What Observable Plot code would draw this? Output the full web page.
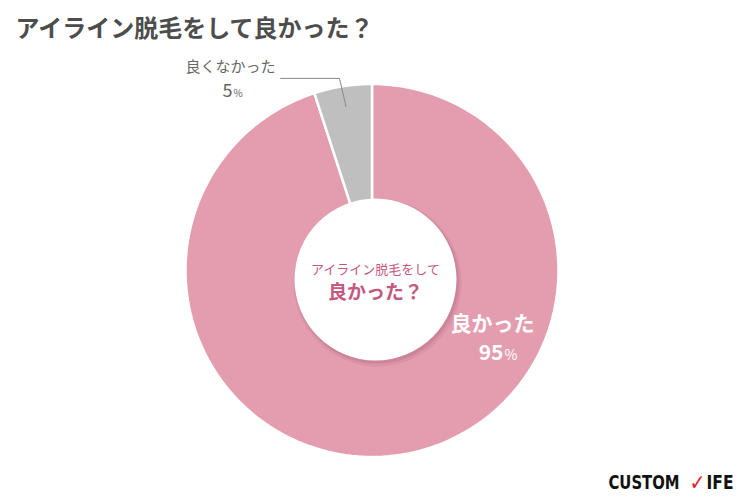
<!DOCTYPE html>
<html><head><meta charset="utf-8">
<script src="https://cdn.jsdelivr.net/npm/d3@7"></script>
<script src="https://cdn.jsdelivr.net/npm/@observablehq/plot@0.6"></script>
<style>body{margin:0;background:#fff}svg{display:block}</style>
</head><body><div id="chart"></div>
<script>
const categories = ["良かった", "良くなかった"];
const values = [95, 5];
const colors = ["#e39daf", "#bfbfbf"];
const title = "アイライン脱毛をして良かった？";
const centerLines = ["アイライン脱毛をして", "良かった？"];
const brandParts = ["CUSTOM", "✓", "IFE"];

const JP = "'Noto Sans CJK JP', 'Noto Sans', sans-serif";
const BRAND = "'DejaVu Sans Condensed', 'Liberation Sans Narrow', 'DejaVu Sans', sans-serif";
const W = 750, H = 501;
const R = 186.5;               // outer radius in px (1 data unit)
const cx = 371.5, cy = 270;    // center in px
const holeR = 81;              // px
const holeOffset = [3.5 / R, -9 / R];

const pieData = d3.pie().sort(null).value(d => d.value)(categories.map((c, i) => ({cat: c, value: values[i]})));
const rows = [];
for (const s of pieData) {
  const n = 180;
  rows.push({cat: s.data.cat, x: 0, y: 0});
  for (let k = 0; k <= n; k++) {
    const a = s.startAngle + (s.endAngle - s.startAngle) * k / n;
    rows.push({cat: s.data.cat, x: Math.sin(a), y: Math.cos(a)});
  }
  rows.push({cat: s.data.cat, x: 0, y: 0});
}

const small = pieData[1];
const mid = (small.startAngle + small.endAngle) / 2;
const endP = {x: Math.sin(mid) * 0.89, y: Math.cos(mid) * 0.89};
const leader = [
  {x: -0.49, y: 1.03},
  {x: endP.x - 0.035, y: 1.03},
  endP
];

const hole = [{x: holeOffset[0], y: holeOffset[1]}];

const T = (text, o) => Plot.text([text], {text: d => d, frameAnchor: "top-left", lineAnchor: "bottom", fontFamily: JP, ...o});

const plot = Plot.plot({
  width: W, height: H,
  margin: 0,
  x: {domain: [-cx / R, (W - cx) / R], axis: null},
  y: {domain: [-(H - cy) / R, cy / R], axis: null},
  style: {fontFamily: JP, background: "#fff"},
  marks: [
    ...categories.map((c, i) => Plot.line(rows.filter(r => r.cat === c), {x: "x", y: "y", fill: colors[i], stroke: "white", strokeWidth: 2.5, strokeLinejoin: "round"})),
    Plot.dot(hole, {x: "x", y: "y", r: holeR + 3, dx: 2, dy: 3, fill: "#b06a80", fillOpacity: 0.18, stroke: null}),
    Plot.dot(hole, {x: "x", y: "y", r: holeR + 1, dx: 1.5, dy: 2, fill: "#b06a80", fillOpacity: 0.35, stroke: null}),
    Plot.dot(hole, {x: "x", y: "y", r: holeR, fill: "white", stroke: null}),
    Plot.line(leader, {x: "x", y: "y", stroke: "#888", strokeWidth: 1}),
    T(title, {dx: 15, dy: 36, fontSize: 24, fontWeight: "bold", fill: "#4d4d4d", textAnchor: "start"}),
    T(categories[1], {dx: 185, dy: 71, fontSize: 15, fill: "#666", textAnchor: "start"}),
    T(String(values[1]), {dx: 232, dy: 96, fontSize: 18, fill: "#666", textAnchor: "end"}),
    T("%", {dx: 233, dy: 96, fontSize: 10, fill: "#666", textAnchor: "start"}),
    T(centerLines[0], {dx: 375, dy: 273, fontSize: 13, fill: "#c4587f", textAnchor: "middle"}),
    T(centerLines[1], {dx: 375, dy: 298, fontSize: 19, fontWeight: "bold", fill: "#c4587f", textAnchor: "middle"}),
    T(categories[0], {dx: 492, dy: 330, fontSize: 21, fontWeight: "bold", fill: "white", textAnchor: "middle"}),
    T(String(values[0]), {dx: 503, dy: 359, fontSize: 21, fontWeight: "bold", fill: "white", textAnchor: "end"}),
    T("%", {dx: 504, dy: 359, fontSize: 14, fill: "white", textAnchor: "start"}),
    T(brandParts[0], {dx: 608, dy: 488, fontSize: 19, fontWeight: "bold", fill: "#111", textAnchor: "start", fontFamily: BRAND}),
    T(brandParts[1], {dx: 689, dy: 489, fontSize: 22, fontWeight: "bold", fill: "#e0202a", textAnchor: "start", fontFamily: "'DejaVu Sans', sans-serif"}),
    T(brandParts[2], {dx: 706, dy: 488, fontSize: 19, fontWeight: "bold", fill: "#111", textAnchor: "start", fontFamily: BRAND})
  ]
});
d3.select(plot).selectAll("text").each(function() {
  const t = this.textContent;
  if (t === brandParts[0]) { this.setAttribute("textLength", 71); this.setAttribute("lengthAdjust", "spacingAndGlyphs"); }
  if (t === brandParts[1]) { this.setAttribute("textLength", 16); this.setAttribute("lengthAdjust", "spacingAndGlyphs"); }
  if (t === brandParts[2]) { this.setAttribute("textLength", 27); this.setAttribute("lengthAdjust", "spacingAndGlyphs"); }
});
document.getElementById("chart").append(plot);
</script></body></html>
